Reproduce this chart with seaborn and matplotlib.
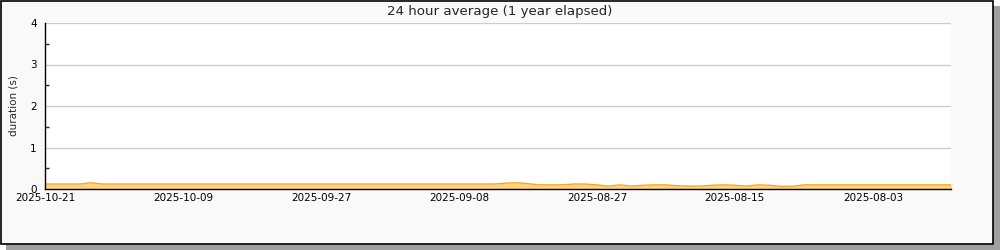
import matplotlib
matplotlib.use("Agg")
import matplotlib.pyplot as plt
import seaborn as sns
import pandas as pd
import numpy as np
from matplotlib.patches import Rectangle

# Data (one value per day, newest on the left)
duration = [0.12, 0.12, 0.12, 0.12, 0.15, 0.12, 0.12, 0.12, 0.12, 0.12,
            0.12, 0.12, 0.12, 0.12, 0.12, 0.12, 0.12, 0.12, 0.12, 0.12,
            0.12, 0.12, 0.12, 0.12, 0.12, 0.12, 0.12, 0.12, 0.12, 0.12,
            0.12, 0.12, 0.12, 0.12, 0.12, 0.12, 0.12, 0.12, 0.12, 0.12,
            0.14, 0.15, 0.13, 0.10, 0.10, 0.10, 0.12, 0.12, 0.10, 0.07,
            0.10, 0.07, 0.09, 0.10, 0.10, 0.08, 0.07, 0.07, 0.09, 0.10,
            0.09, 0.07, 0.10, 0.09, 0.065, 0.065, 0.10, 0.10, 0.10, 0.10,
            0.10, 0.10, 0.10, 0.10, 0.10, 0.10, 0.10, 0.10, 0.10, 0.10]
tick_labels = ["2025-10-21", "", "2025-10-09", "", "2025-09-27", "", "2025-09-08", "",
               "2025-08-27", "", "2025-08-15", "", "2025-08-03", ""]
title = "24 hour average (1 year elapsed)"
ylabel = "duration (s)"

df = pd.DataFrame({"idx": np.arange(len(duration)), "duration": duration})

sns.set_style("white")
plt.rcParams["font.family"] = ["DejaVu Sans"]

fig = plt.figure(figsize=(10, 2.5), dpi=100)
fig.patch.set_facecolor("white")
# shadow and frame
fig.patches.append(Rectangle((0.006, -0.01), 0.994, 0.985, transform=fig.transFigure,
                             facecolor="#a0a0a0", edgecolor="none", zorder=0))
fig.patches.append(Rectangle((0.001, 0.026), 0.992, 0.972, transform=fig.transFigure,
                             facecolor="#f9f9f9", edgecolor="black", linewidth=1.2, zorder=1))

ax = fig.add_axes([0.045, 0.244, 0.906, 0.664])
ax.set_facecolor("white")
ax.set_zorder(2)

ax.fill_between(df["idx"], 0, df["duration"], color="#ffd27f", linewidth=0, zorder=2)
sns.lineplot(data=df, x="idx", y="duration", ax=ax, color="#f7a623", linewidth=1.0, zorder=3)

ax.set_xlim(0, 78.8)
ax.set_ylim(0, 4)
ax.set_xticks(np.arange(0, 79, 6))
ax.set_xticklabels(tick_labels, fontsize=7.5)
ax.set_yticks([0, 1, 2, 3, 4])
ax.set_yticklabels(["0", "1", "2", "3", "4"], fontsize=7.5)
ax.set_yticks(np.arange(0.5, 4, 1), minor=True)
ax.tick_params(axis="x", direction="in", length=5, width=1, pad=3, colors="black")
ax.tick_params(axis="y", which="major", direction="in", length=5, width=1, pad=6, colors="black")
ax.tick_params(axis="y", which="minor", direction="in", length=3, width=1, left=True)

ax.grid(axis="y", color="#cccccc", linewidth=1)
ax.set_axisbelow(True)
for s in ["top", "right"]:
    ax.spines[s].set_visible(False)
for s in ["left", "bottom"]:
    ax.spines[s].set_color("black")
    ax.spines[s].set_linewidth(1)
    ax.spines[s].set_zorder(5)

ax.set_xlabel("")
ax.set_ylabel(ylabel, fontsize=7.5)
ax.yaxis.set_label_coords(-0.029, 0.5)

fig.text(0.5, 0.955, title, ha="center", va="center", fontsize=9.6)

fig.savefig("out.png", dpi=100, facecolor=fig.get_facecolor())
